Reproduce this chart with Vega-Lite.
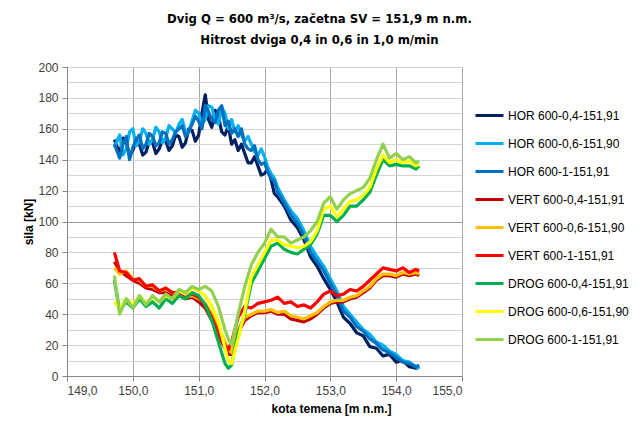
{
"$schema": "https://vega.github.io/schema/vega-lite/v6.json",
"width": 395, "height": 309,
"autosize": "none",
"padding": {"left": 67, "top": 67, "right": 178, "bottom": 45},
"background": "white",
"config": {"view": {"stroke": null}, "font": "Liberation Sans"},
"title": {"text": ["Dvig Q = 600 m³/s, začetna SV = 151,9 m n.m.", "Hitrost dviga 0,4 in 0,6 in 1,0 m/min"], "font": "DejaVu Sans Condensed, Liberation Sans", "fontSize": 13, "fontWeight": "bold", "color": "#000000", "anchor": "middle", "dx": 55, "offset": 14, "lineHeight": 21},
"datasets": {
"names": [
{"s":"H4","name":"HOR 600-0,4-151,91"},{"s":"H6","name":"HOR 600-0,6-151,90"},{"s":"H1","name":"HOR 600-1-151,91"},
{"s":"V4","name":"VERT 600-0,4-151,91"},{"s":"V6","name":"VERT 600-0,6-151,90"},{"s":"V1","name":"VERT 600-1-151,91"},
{"s":"D4","name":"DROG 600-0,4-151,91"},{"s":"D6","name":"DROG 600-0,6-151,90"},{"s":"D1","name":"DROG 600-1-151,91"}
]
},
"data": {"values": [
{"s":"H4","x":149.72,"y":153},{"s":"H4","x":149.8,"y":144},{"s":"H4","x":149.9,"y":151},{"s":"H4","x":150.0,"y":146},{"s":"H4","x":150.1,"y":150},{"s":"H4","x":150.2,"y":145},{"s":"H4","x":150.3,"y":151},{"s":"H4","x":150.4,"y":147},{"s":"H4","x":150.5,"y":152},{"s":"H4","x":150.6,"y":149},{"s":"H4","x":150.7,"y":155},{"s":"H4","x":150.8,"y":151},{"s":"H4","x":150.9,"y":159},{"s":"H4","x":151.0,"y":156},{"s":"H4","x":151.1,"y":182},{"s":"H4","x":151.2,"y":161},{"s":"H4","x":151.3,"y":168},{"s":"H4","x":151.4,"y":156},{"s":"H4","x":151.45,"y":162},{"s":"H4","x":151.5,"y":150},{"s":"H4","x":151.55,"y":153},{"s":"H4","x":151.6,"y":146},{"s":"H4","x":151.7,"y":144},{"s":"H4","x":151.8,"y":138},{"s":"H4","x":151.9,"y":136},{"s":"H4","x":152.0,"y":131},{"s":"H4","x":152.1,"y":127},{"s":"H4","x":152.2,"y":116},{"s":"H4","x":152.3,"y":110},{"s":"H4","x":152.4,"y":101},{"s":"H4","x":152.5,"y":96},{"s":"H4","x":152.6,"y":88},{"s":"H4","x":152.7,"y":77},{"s":"H4","x":152.8,"y":71},{"s":"H4","x":152.9,"y":63},{"s":"H4","x":153.0,"y":56},{"s":"H4","x":153.1,"y":48},{"s":"H4","x":153.2,"y":38},{"s":"H4","x":153.3,"y":34},{"s":"H4","x":153.4,"y":28},{"s":"H4","x":153.5,"y":26},{"s":"H4","x":153.6,"y":19},{"s":"H4","x":153.7,"y":18},{"s":"H4","x":153.8,"y":13},{"s":"H4","x":153.9,"y":14},{"s":"H4","x":154.0,"y":9},{"s":"H4","x":154.1,"y":10},{"s":"H4","x":154.2,"y":6},{"s":"H4","x":154.3,"y":5},{"s":"H4","x":154.35,"y":6},
{"s":"H4","x":149.85,"y":154},{"s":"H4","x":149.95,"y":143},{"s":"H4","x":150.05,"y":152},{"s":"H4","x":150.15,"y":143},{"s":"H4","x":150.25,"y":152},{"s":"H4","x":150.35,"y":144},{"s":"H4","x":150.45,"y":153},{"s":"H4","x":150.55,"y":146},{"s":"H4","x":150.65,"y":156},{"s":"H4","x":150.75,"y":148},{"s":"H4","x":150.85,"y":160},{"s":"H4","x":150.95,"y":152},{"s":"H4","x":151.05,"y":170},{"s":"H4","x":151.15,"y":166},{"s":"H4","x":151.25,"y":172},{"s":"H4","x":151.35,"y":158},{"s":"H4","x":151.65,"y":150},{"s":"H4","x":151.75,"y":138},{"s":"H4","x":151.85,"y":142},{"s":"H4","x":151.95,"y":130},{"s":"H4","x":152.05,"y":134},{"s":"H4","x":152.15,"y":118},
{"s":"H6","x":149.72,"y":148},{"s":"H6","x":149.8,"y":156},{"s":"H6","x":149.9,"y":147},{"s":"H6","x":150.0,"y":160},{"s":"H6","x":150.1,"y":152},{"s":"H6","x":150.2,"y":157},{"s":"H6","x":150.3,"y":153},{"s":"H6","x":150.4,"y":158},{"s":"H6","x":150.5,"y":154},{"s":"H6","x":150.6,"y":160},{"s":"H6","x":150.7,"y":163},{"s":"H6","x":150.8,"y":158},{"s":"H6","x":150.9,"y":165},{"s":"H6","x":151.0,"y":170},{"s":"H6","x":151.1,"y":166},{"s":"H6","x":151.2,"y":174},{"s":"H6","x":151.3,"y":163},{"s":"H6","x":151.4,"y":170},{"s":"H6","x":151.45,"y":160},{"s":"H6","x":151.5,"y":166},{"s":"H6","x":151.55,"y":158},{"s":"H6","x":151.6,"y":162},{"s":"H6","x":151.7,"y":152},{"s":"H6","x":151.8,"y":150},{"s":"H6","x":151.9,"y":143},{"s":"H6","x":152.0,"y":142},{"s":"H6","x":152.1,"y":131},{"s":"H6","x":152.2,"y":122},{"s":"H6","x":152.3,"y":114},{"s":"H6","x":152.4,"y":107},{"s":"H6","x":152.5,"y":102},{"s":"H6","x":152.6,"y":94},{"s":"H6","x":152.7,"y":84},{"s":"H6","x":152.8,"y":77},{"s":"H6","x":152.9,"y":71},{"s":"H6","x":153.0,"y":63},{"s":"H6","x":153.1,"y":55},{"s":"H6","x":153.2,"y":45},{"s":"H6","x":153.3,"y":40},{"s":"H6","x":153.4,"y":35},{"s":"H6","x":153.5,"y":30},{"s":"H6","x":153.6,"y":27},{"s":"H6","x":153.7,"y":22},{"s":"H6","x":153.8,"y":20},{"s":"H6","x":153.9,"y":16},{"s":"H6","x":154.0,"y":14},{"s":"H6","x":154.1,"y":10},{"s":"H6","x":154.2,"y":9},{"s":"H6","x":154.3,"y":6},{"s":"H6","x":154.35,"y":5},
{"s":"H6","x":149.85,"y":143},{"s":"H6","x":149.95,"y":158},{"s":"H6","x":150.05,"y":149},{"s":"H6","x":150.15,"y":160},{"s":"H6","x":150.25,"y":150},{"s":"H6","x":150.35,"y":161},{"s":"H6","x":150.45,"y":151},{"s":"H6","x":150.55,"y":162},{"s":"H6","x":150.65,"y":157},{"s":"H6","x":150.75,"y":166},{"s":"H6","x":150.85,"y":158},{"s":"H6","x":150.95,"y":172},{"s":"H6","x":151.05,"y":163},{"s":"H6","x":151.15,"y":175},{"s":"H6","x":151.25,"y":166},{"s":"H6","x":151.35,"y":174},{"s":"H6","x":151.65,"y":156},{"s":"H6","x":151.75,"y":155},{"s":"H6","x":151.85,"y":145},{"s":"H6","x":151.95,"y":147},{"s":"H6","x":152.05,"y":135},{"s":"H6","x":152.15,"y":128},
{"s":"H1","x":149.72,"y":150},{"s":"H1","x":149.8,"y":141},{"s":"H1","x":149.9,"y":155},{"s":"H1","x":150.0,"y":148},{"s":"H1","x":150.1,"y":156},{"s":"H1","x":150.2,"y":150},{"s":"H1","x":150.3,"y":155},{"s":"H1","x":150.4,"y":151},{"s":"H1","x":150.5,"y":157},{"s":"H1","x":150.6,"y":153},{"s":"H1","x":150.7,"y":160},{"s":"H1","x":150.8,"y":155},{"s":"H1","x":150.9,"y":163},{"s":"H1","x":151.0,"y":165},{"s":"H1","x":151.1,"y":175},{"s":"H1","x":151.2,"y":166},{"s":"H1","x":151.3,"y":172},{"s":"H1","x":151.4,"y":162},{"s":"H1","x":151.45,"y":165},{"s":"H1","x":151.5,"y":157},{"s":"H1","x":151.55,"y":160},{"s":"H1","x":151.6,"y":155},{"s":"H1","x":151.7,"y":150},{"s":"H1","x":151.8,"y":146},{"s":"H1","x":151.9,"y":140},{"s":"H1","x":152.0,"y":138},{"s":"H1","x":152.1,"y":128},{"s":"H1","x":152.2,"y":119},{"s":"H1","x":152.3,"y":112},{"s":"H1","x":152.4,"y":104},{"s":"H1","x":152.5,"y":99},{"s":"H1","x":152.6,"y":91},{"s":"H1","x":152.7,"y":80},{"s":"H1","x":152.8,"y":74},{"s":"H1","x":152.9,"y":68},{"s":"H1","x":153.0,"y":60},{"s":"H1","x":153.1,"y":52},{"s":"H1","x":153.2,"y":42},{"s":"H1","x":153.3,"y":38},{"s":"H1","x":153.4,"y":32},{"s":"H1","x":153.5,"y":29},{"s":"H1","x":153.6,"y":24},{"s":"H1","x":153.7,"y":21},{"s":"H1","x":153.8,"y":17},{"s":"H1","x":153.9,"y":15},{"s":"H1","x":154.0,"y":12},{"s":"H1","x":154.1,"y":9},{"s":"H1","x":154.2,"y":8},{"s":"H1","x":154.3,"y":6},{"s":"H1","x":154.35,"y":7},
{"s":"H1","x":149.85,"y":150},{"s":"H1","x":149.95,"y":140},{"s":"H1","x":150.05,"y":153},{"s":"H1","x":150.15,"y":147},{"s":"H1","x":150.25,"y":157},{"s":"H1","x":150.35,"y":149},{"s":"H1","x":150.45,"y":158},{"s":"H1","x":150.55,"y":150},{"s":"H1","x":150.65,"y":158},{"s":"H1","x":150.75,"y":162},{"s":"H1","x":150.85,"y":158},{"s":"H1","x":150.95,"y":168},{"s":"H1","x":151.05,"y":160},{"s":"H1","x":151.15,"y":171},{"s":"H1","x":151.25,"y":164},{"s":"H1","x":151.35,"y":175},{"s":"H1","x":151.65,"y":160},{"s":"H1","x":151.75,"y":147},{"s":"H1","x":151.85,"y":149},{"s":"H1","x":151.95,"y":137},{"s":"H1","x":152.05,"y":132},{"s":"H1","x":152.15,"y":126},
{"s":"V4","x":149.72,"y":74},{"s":"V4","x":149.8,"y":68},{"s":"V4","x":149.9,"y":65},{"s":"V4","x":150.0,"y":62},{"s":"V4","x":150.1,"y":60},{"s":"V4","x":150.2,"y":57},{"s":"V4","x":150.3,"y":56},{"s":"V4","x":150.4,"y":54},{"s":"V4","x":150.5,"y":54},{"s":"V4","x":150.6,"y":52},{"s":"V4","x":150.7,"y":52},{"s":"V4","x":150.8,"y":50},{"s":"V4","x":150.9,"y":51},{"s":"V4","x":151.0,"y":48},{"s":"V4","x":151.1,"y":44},{"s":"V4","x":151.2,"y":36},{"s":"V4","x":151.3,"y":26},{"s":"V4","x":151.4,"y":18},{"s":"V4","x":151.45,"y":14},{"s":"V4","x":151.5,"y":14},{"s":"V4","x":151.55,"y":20},{"s":"V4","x":151.6,"y":28},{"s":"V4","x":151.7,"y":36},{"s":"V4","x":151.8,"y":39},{"s":"V4","x":151.9,"y":41},{"s":"V4","x":152.0,"y":41},{"s":"V4","x":152.1,"y":42},{"s":"V4","x":152.2,"y":40},{"s":"V4","x":152.3,"y":40},{"s":"V4","x":152.4,"y":37},{"s":"V4","x":152.5,"y":36},{"s":"V4","x":152.6,"y":35},{"s":"V4","x":152.7,"y":37},{"s":"V4","x":152.8,"y":40},{"s":"V4","x":152.9,"y":44},{"s":"V4","x":153.0,"y":47},{"s":"V4","x":153.1,"y":48},{"s":"V4","x":153.2,"y":48},{"s":"V4","x":153.3,"y":50},{"s":"V4","x":153.4,"y":51},{"s":"V4","x":153.5,"y":54},{"s":"V4","x":153.6,"y":57},{"s":"V4","x":153.7,"y":62},{"s":"V4","x":153.8,"y":65},{"s":"V4","x":153.9,"y":65},{"s":"V4","x":154.0,"y":64},{"s":"V4","x":154.1,"y":66},{"s":"V4","x":154.2,"y":65},{"s":"V4","x":154.3,"y":66},{"s":"V4","x":154.35,"y":65},
{"s":"V6","x":149.72,"y":70},{"s":"V6","x":149.8,"y":66},{"s":"V6","x":149.9,"y":68},{"s":"V6","x":150.0,"y":63},{"s":"V6","x":150.1,"y":62},{"s":"V6","x":150.2,"y":58},{"s":"V6","x":150.3,"y":58},{"s":"V6","x":150.4,"y":55},{"s":"V6","x":150.5,"y":56},{"s":"V6","x":150.6,"y":54},{"s":"V6","x":150.7,"y":53},{"s":"V6","x":150.8,"y":51},{"s":"V6","x":150.9,"y":52},{"s":"V6","x":151.0,"y":50},{"s":"V6","x":151.1,"y":47},{"s":"V6","x":151.2,"y":40},{"s":"V6","x":151.3,"y":32},{"s":"V6","x":151.4,"y":22},{"s":"V6","x":151.45,"y":18},{"s":"V6","x":151.5,"y":15},{"s":"V6","x":151.55,"y":22},{"s":"V6","x":151.6,"y":30},{"s":"V6","x":151.7,"y":38},{"s":"V6","x":151.8,"y":40},{"s":"V6","x":151.9,"y":42},{"s":"V6","x":152.0,"y":42},{"s":"V6","x":152.1,"y":43},{"s":"V6","x":152.2,"y":41},{"s":"V6","x":152.3,"y":42},{"s":"V6","x":152.4,"y":39},{"s":"V6","x":152.5,"y":38},{"s":"V6","x":152.6,"y":37},{"s":"V6","x":152.7,"y":39},{"s":"V6","x":152.8,"y":41},{"s":"V6","x":152.9,"y":45},{"s":"V6","x":153.0,"y":48},{"s":"V6","x":153.1,"y":49},{"s":"V6","x":153.2,"y":49},{"s":"V6","x":153.3,"y":51},{"s":"V6","x":153.4,"y":52},{"s":"V6","x":153.5,"y":55},{"s":"V6","x":153.6,"y":58},{"s":"V6","x":153.7,"y":63},{"s":"V6","x":153.8,"y":66},{"s":"V6","x":153.9,"y":66},{"s":"V6","x":154.0,"y":65},{"s":"V6","x":154.1,"y":67},{"s":"V6","x":154.2,"y":66},{"s":"V6","x":154.3,"y":67},{"s":"V6","x":154.35,"y":66},
{"s":"V1","x":149.72,"y":80},{"s":"V1","x":149.8,"y":68},{"s":"V1","x":149.9,"y":67},{"s":"V1","x":150.0,"y":62},{"s":"V1","x":150.1,"y":63},{"s":"V1","x":150.2,"y":58},{"s":"V1","x":150.3,"y":59},{"s":"V1","x":150.4,"y":55},{"s":"V1","x":150.5,"y":57},{"s":"V1","x":150.6,"y":54},{"s":"V1","x":150.7,"y":54},{"s":"V1","x":150.8,"y":52},{"s":"V1","x":150.9,"y":53},{"s":"V1","x":151.0,"y":51},{"s":"V1","x":151.1,"y":46},{"s":"V1","x":151.2,"y":38},{"s":"V1","x":151.3,"y":28},{"s":"V1","x":151.4,"y":20},{"s":"V1","x":151.45,"y":17},{"s":"V1","x":151.5,"y":22},{"s":"V1","x":151.55,"y":30},{"s":"V1","x":151.6,"y":38},{"s":"V1","x":151.7,"y":45},{"s":"V1","x":151.8,"y":44},{"s":"V1","x":151.9,"y":47},{"s":"V1","x":152.0,"y":48},{"s":"V1","x":152.1,"y":49},{"s":"V1","x":152.2,"y":51},{"s":"V1","x":152.3,"y":47},{"s":"V1","x":152.4,"y":48},{"s":"V1","x":152.5,"y":45},{"s":"V1","x":152.6,"y":46},{"s":"V1","x":152.7,"y":44},{"s":"V1","x":152.8,"y":48},{"s":"V1","x":152.9,"y":53},{"s":"V1","x":153.0,"y":55},{"s":"V1","x":153.1,"y":52},{"s":"V1","x":153.2,"y":53},{"s":"V1","x":153.3,"y":56},{"s":"V1","x":153.4,"y":55},{"s":"V1","x":153.5,"y":58},{"s":"V1","x":153.6,"y":62},{"s":"V1","x":153.7,"y":66},{"s":"V1","x":153.8,"y":70},{"s":"V1","x":153.9,"y":69},{"s":"V1","x":154.0,"y":68},{"s":"V1","x":154.1,"y":70},{"s":"V1","x":154.2,"y":67},{"s":"V1","x":154.3,"y":69},{"s":"V1","x":154.35,"y":68},
{"s":"D4","x":149.72,"y":62},{"s":"D4","x":149.8,"y":42},{"s":"D4","x":149.9,"y":48},{"s":"D4","x":150.0,"y":44},{"s":"D4","x":150.1,"y":50},{"s":"D4","x":150.2,"y":45},{"s":"D4","x":150.3,"y":48},{"s":"D4","x":150.4,"y":44},{"s":"D4","x":150.5,"y":50},{"s":"D4","x":150.6,"y":47},{"s":"D4","x":150.7,"y":52},{"s":"D4","x":150.8,"y":50},{"s":"D4","x":150.9,"y":54},{"s":"D4","x":151.0,"y":52},{"s":"D4","x":151.1,"y":46},{"s":"D4","x":151.2,"y":36},{"s":"D4","x":151.3,"y":22},{"s":"D4","x":151.4,"y":8},{"s":"D4","x":151.45,"y":5},{"s":"D4","x":151.5,"y":7},{"s":"D4","x":151.55,"y":18},{"s":"D4","x":151.6,"y":28},{"s":"D4","x":151.7,"y":40},{"s":"D4","x":151.8,"y":60},{"s":"D4","x":151.9,"y":68},{"s":"D4","x":152.0,"y":76},{"s":"D4","x":152.1,"y":84},{"s":"D4","x":152.2,"y":86},{"s":"D4","x":152.3,"y":82},{"s":"D4","x":152.4,"y":80},{"s":"D4","x":152.5,"y":79},{"s":"D4","x":152.6,"y":82},{"s":"D4","x":152.7,"y":85},{"s":"D4","x":152.8,"y":92},{"s":"D4","x":152.9,"y":104},{"s":"D4","x":153.0,"y":104},{"s":"D4","x":153.1,"y":100},{"s":"D4","x":153.2,"y":104},{"s":"D4","x":153.3,"y":110},{"s":"D4","x":153.4,"y":110},{"s":"D4","x":153.5,"y":114},{"s":"D4","x":153.6,"y":119},{"s":"D4","x":153.7,"y":130},{"s":"D4","x":153.8,"y":140},{"s":"D4","x":153.9,"y":136},{"s":"D4","x":154.0,"y":137},{"s":"D4","x":154.1,"y":136},{"s":"D4","x":154.2,"y":136},{"s":"D4","x":154.3,"y":134},{"s":"D4","x":154.35,"y":136},
{"s":"D6","x":149.72,"y":48},{"s":"D6","x":149.8,"y":44},{"s":"D6","x":149.9,"y":50},{"s":"D6","x":150.0,"y":46},{"s":"D6","x":150.1,"y":52},{"s":"D6","x":150.2,"y":47},{"s":"D6","x":150.3,"y":51},{"s":"D6","x":150.4,"y":48},{"s":"D6","x":150.5,"y":52},{"s":"D6","x":150.6,"y":50},{"s":"D6","x":150.7,"y":55},{"s":"D6","x":150.8,"y":53},{"s":"D6","x":150.9,"y":57},{"s":"D6","x":151.0,"y":55},{"s":"D6","x":151.1,"y":52},{"s":"D6","x":151.2,"y":45},{"s":"D6","x":151.3,"y":35},{"s":"D6","x":151.4,"y":18},{"s":"D6","x":151.45,"y":10},{"s":"D6","x":151.5,"y":8},{"s":"D6","x":151.55,"y":16},{"s":"D6","x":151.6,"y":24},{"s":"D6","x":151.7,"y":42},{"s":"D6","x":151.8,"y":64},{"s":"D6","x":151.9,"y":72},{"s":"D6","x":152.0,"y":80},{"s":"D6","x":152.1,"y":88},{"s":"D6","x":152.2,"y":88},{"s":"D6","x":152.3,"y":85},{"s":"D6","x":152.4,"y":84},{"s":"D6","x":152.5,"y":83},{"s":"D6","x":152.6,"y":84},{"s":"D6","x":152.7,"y":87},{"s":"D6","x":152.8,"y":94},{"s":"D6","x":152.9,"y":108},{"s":"D6","x":153.0,"y":110},{"s":"D6","x":153.1,"y":103},{"s":"D6","x":153.2,"y":108},{"s":"D6","x":153.3,"y":113},{"s":"D6","x":153.4,"y":114},{"s":"D6","x":153.5,"y":117},{"s":"D6","x":153.6,"y":122},{"s":"D6","x":153.7,"y":134},{"s":"D6","x":153.8,"y":143},{"s":"D6","x":153.9,"y":138},{"s":"D6","x":154.0,"y":140},{"s":"D6","x":154.1,"y":138},{"s":"D6","x":154.2,"y":139},{"s":"D6","x":154.3,"y":136},{"s":"D6","x":154.35,"y":137},
{"s":"D1","x":149.72,"y":65},{"s":"D1","x":149.8,"y":40},{"s":"D1","x":149.9,"y":50},{"s":"D1","x":150.0,"y":44},{"s":"D1","x":150.1,"y":52},{"s":"D1","x":150.2,"y":46},{"s":"D1","x":150.3,"y":52},{"s":"D1","x":150.4,"y":48},{"s":"D1","x":150.5,"y":53},{"s":"D1","x":150.6,"y":50},{"s":"D1","x":150.7,"y":56},{"s":"D1","x":150.8,"y":54},{"s":"D1","x":150.9,"y":58},{"s":"D1","x":151.0,"y":56},{"s":"D1","x":151.1,"y":58},{"s":"D1","x":151.2,"y":55},{"s":"D1","x":151.3,"y":45},{"s":"D1","x":151.4,"y":30},{"s":"D1","x":151.45,"y":24},{"s":"D1","x":151.5,"y":20},{"s":"D1","x":151.55,"y":30},{"s":"D1","x":151.6,"y":40},{"s":"D1","x":151.7,"y":58},{"s":"D1","x":151.8,"y":72},{"s":"D1","x":151.9,"y":80},{"s":"D1","x":152.0,"y":86},{"s":"D1","x":152.1,"y":95},{"s":"D1","x":152.2,"y":90},{"s":"D1","x":152.3,"y":90},{"s":"D1","x":152.4,"y":86},{"s":"D1","x":152.5,"y":88},{"s":"D1","x":152.6,"y":90},{"s":"D1","x":152.7,"y":94},{"s":"D1","x":152.8,"y":100},{"s":"D1","x":152.9,"y":112},{"s":"D1","x":153.0,"y":116},{"s":"D1","x":153.1,"y":108},{"s":"D1","x":153.2,"y":114},{"s":"D1","x":153.3,"y":118},{"s":"D1","x":153.4,"y":120},{"s":"D1","x":153.5,"y":122},{"s":"D1","x":153.6,"y":128},{"s":"D1","x":153.7,"y":140},{"s":"D1","x":153.8,"y":150},{"s":"D1","x":153.9,"y":141},{"s":"D1","x":154.0,"y":144},{"s":"D1","x":154.1,"y":140},{"s":"D1","x":154.2,"y":142},{"s":"D1","x":154.3,"y":138},{"s":"D1","x":154.35,"y":139}
]},
"transform": [{"lookup": "s", "from": {"data": {"name": "names"}, "key": "s", "fields": ["name"]}}],
"mark": {"type": "line", "strokeWidth": 3.2, "strokeJoin": "round", "clip": true},
"encoding": {
"x": {"field": "x", "type": "quantitative", "scale": {"domain": [149, 155], "nice": false, "zero": false},
  "axis": {"values": [149,150,151,152,153,154,155], "labelExpr": "replace(format(datum.value, '.1f'), '.', ',')", "grid": true, "gridColor": "#a6a6a6", "domainColor": "#868686", "tickColor": "#868686", "tickSize": 5, "labelPadding": 4, "labelFontSize": 12, "labelColor": "#404040", "labelFont": "Liberation Sans", "title": "kota temena [m n.m.]", "titleFontSize": 12, "titleFontWeight": "bold", "titleColor": "#000000", "titleFont": "Liberation Sans", "titleX": 264, "titleY": 27, "titleBaseline": "top", "titleAnchor": "middle"}},
"y": {"field": "y", "type": "quantitative", "scale": {"domain": [0, 200], "nice": false},
  "axis": {"values": [0,10,20,30,40,50,60,70,80,90,100,110,120,130,140,150,160,170,180,190,200], "labelExpr": "datum.value % 20 === 0 ? datum.value : ''", "grid": true, "gridColor": {"condition": {"test": "datum.value === 100", "value": "#9a9a9a"}, "value": "#d4d4d4"}, "tickOpacity": {"condition": {"test": "datum.value % 20 === 0", "value": 1}, "value": 0}, "domainColor": "#868686", "tickColor": "#868686", "tickSize": 5, "labelPadding": 4, "labelFontSize": 12, "labelColor": "#404040", "labelFont": "Liberation Sans", "title": "sila [kN]", "titleFontSize": 12, "titleFontWeight": "bold", "titleColor": "#000000", "titleFont": "Liberation Sans", "titlePadding": 2}},
"color": {"field": "name", "type": "nominal", "sort": null,
  "scale": {"domain": ["HOR 600-0,4-151,91","HOR 600-0,6-151,90","HOR 600-1-151,91","VERT 600-0,4-151,91","VERT 600-0,6-151,90","VERT 600-1-151,91","DROG 600-0,4-151,91","DROG 600-0,6-151,90","DROG 600-1-151,91"],
    "range": ["#002060","#00b0f0","#0070c0","#c00000","#ffc000","#ff0000","#00b050","#ffff00","#92d050"]},
  "legend": {"title": null, "orient": "none", "legendX": 407, "legendY": 33, "symbolType": "stroke", "symbolStrokeWidth": 3, "symbolSize": 784, "rowPadding": 6, "labelOffset": 3, "labelFontSize": 12, "labelFont": "Liberation Sans", "labelColor": "#000000", "labelLimit": 200}}
}
}
